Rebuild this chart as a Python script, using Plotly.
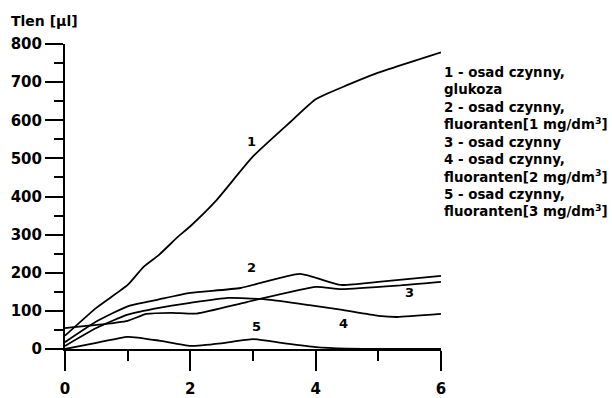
import plotly.graph_objects as go

# --- data ---
x1 = [0, 0.5, 1, 1.25, 1.5, 1.8, 2, 2.4, 3, 3.6, 4, 4.5, 5, 5.5, 6]
y1 = [35, 108, 168, 215, 247, 294, 322, 387, 505, 596, 655, 692, 725, 752, 778]

x2 = [0, 0.5, 1, 1.5, 2, 2.8, 3.75, 4.4, 5, 5.5, 6]
y2 = [18, 72, 112, 130, 147, 160, 197, 168, 176, 184, 192]

x3 = [0, 0.5, 1.0, 1.3, 1.7, 2.1, 2.9, 4.0, 4.4, 5.3, 6]
y3 = [55, 63, 74, 92, 95, 93, 123, 163, 157, 166, 176]

x4 = [0, 0.5, 1, 1.5, 2, 2.6, 3.2, 3.9, 4.4, 5.0, 5.3, 6]
y4 = [8, 55, 90, 108, 121, 134, 130, 115, 103, 87, 84, 92]

x5 = [0, 0.5, 1, 1.5, 2, 2.5, 3, 3.5, 4, 4.5, 5, 5.5, 6]
y5 = [0, 16, 32, 22, 8, 15, 26, 15, 5, 1, 0, 0, 0]

series = [(x1, y1), (x2, y2), (x3, y3), (x4, y4), (x5, y5)]

curve_labels = ["1", "2", "3", "4", "5"]
label_x = [2.97, 2.98, 5.49, 4.44, 3.05]
label_y = [543, 213, 147, 68, 58]

legend_lines = [
    "1 - osad czynny,",
    "glukoza",
    "2 - osad czynny,",
    "fluoranten[1 mg/dm<sup>3</sup>]",
    "3 - osad czynny",
    "4 - osad czynny,",
    "fluoranten[2 mg/dm<sup>3</sup>]",
    "5 - osad czynny,",
    "fluoranten[3 mg/dm<sup>3</sup>]",
]

FONT = "DejaVu Sans"
L, R, T, B = 65, 171, 44, 49
PW, PH = 612 - L - R, 398 - T - B


def px_x(p):
    return (p - L) / PW


def px_y(p):
    return (398 - B - p) / PH


fig = go.Figure()
for xs, ys in series:
    fig.add_trace(go.Scatter(
        x=xs, y=ys, mode="lines",
        line=dict(color="black", width=1.8, shape="spline", smoothing=0.5),
        showlegend=False, hoverinfo="skip", cliponaxis=False,
    ))

for t, lx, ly in zip(curve_labels, label_x, label_y):
    fig.add_annotation(x=lx, y=ly, xref="x", yref="y", text=t, showarrow=False,
                       font=dict(family=FONT, size=13, color="black", weight="bold"))

fig.add_annotation(
    x=px_x(442), y=px_y(63), xref="paper", yref="paper", xanchor="left", yanchor="top",
    text="<br>".join(legend_lines), align="left", showarrow=False,
    font=dict(family=FONT, size=13.4, color="black", weight="bold"),
)

fig.add_annotation(
    x=px_x(9), y=px_y(21), xref="paper", yref="paper", text="Tlen [µl]", showarrow=False,
    xanchor="left", yanchor="middle",
    font=dict(family=FONT, size=14, color="black", weight="bold"),
)

fig.update_layout(
    width=612, height=398,
    margin=dict(l=L, r=R, t=T, b=B, autoexpand=False),
    paper_bgcolor="white", plot_bgcolor="white",
    showlegend=False,
)

fig.update_xaxes(
    range=[0, 6], tickvals=[0, 2, 4, 6], ticktext=["0", "2", "4", "6"],
    showline=True, linecolor="black", linewidth=2,
    ticks="outside", ticklen=20, tickwidth=2, tickcolor="black",
    minor=dict(tickvals=[1, 3, 5], ticks="outside", ticklen=10, tickwidth=2, tickcolor="black"),
    showgrid=False, zeroline=False, ticklabelstandoff=5, automargin=False,
    tickfont=dict(family=FONT, size=15, color="black", weight="bold"),
)
fig.update_yaxes(
    range=[0, 800], tickvals=[0, 100, 200, 300, 400, 500, 600, 700, 800],
    showline=True, linecolor="black", linewidth=2,
    ticks="outside", ticklen=18, tickwidth=2, tickcolor="black",
    minor=dict(tickvals=[50, 150, 250, 350, 450, 550, 650, 750], ticks="outside",
               ticklen=9, tickwidth=2, tickcolor="black"),
    showgrid=False, zeroline=False, automargin=False,
    tickfont=dict(family=FONT, size=15, color="black", weight="bold"),
)

fig.write_html("out.html")
